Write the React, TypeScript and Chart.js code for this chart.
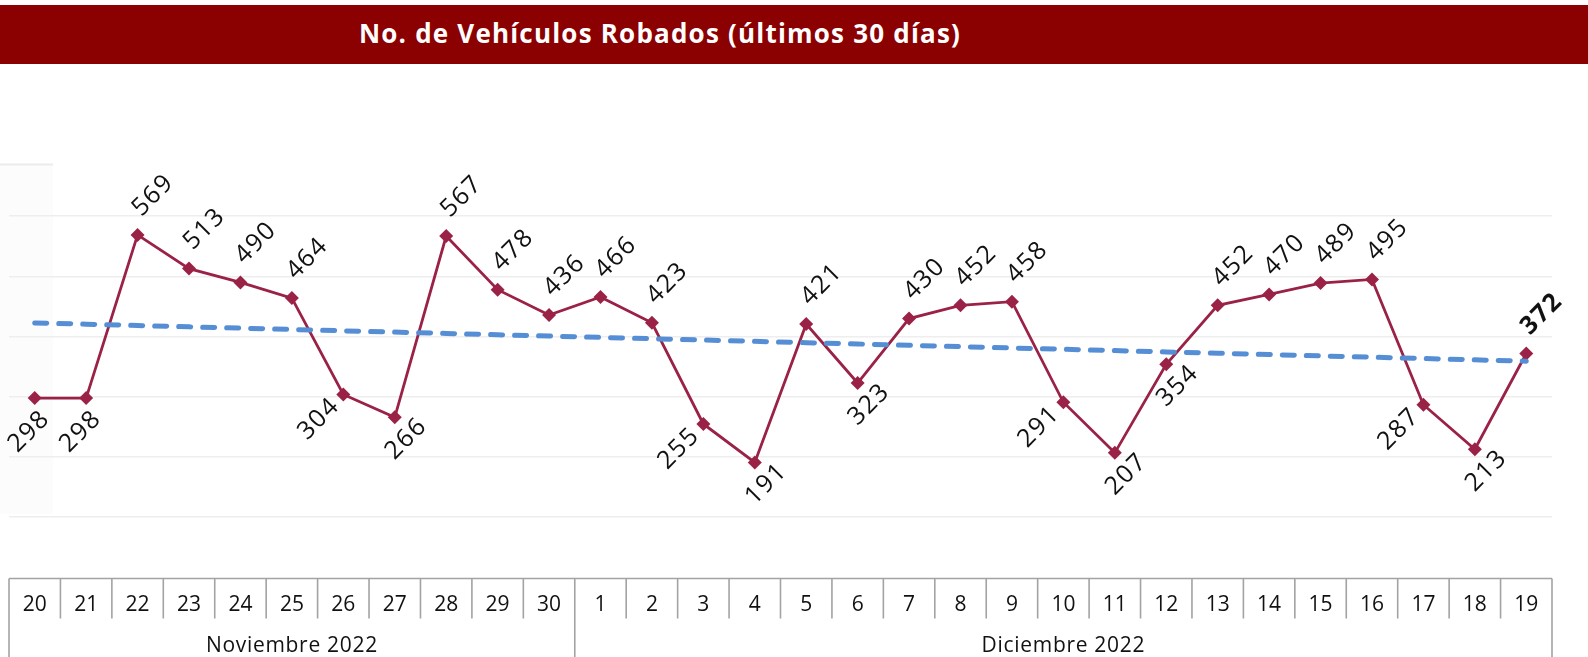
import React, { useEffect, useRef } from "react";
import { Chart, registerables } from "chart.js";

Chart.register(...registerables);

// ---------- data ----------
const title = "No. de Vehículos Robados (últimos 30 días)";
const days = [
  "20", "21", "22", "23", "24", "25", "26", "27", "28", "29", "30",
  "1", "2", "3", "4", "5", "6", "7", "8", "9", "10",
  "11", "12", "13", "14", "15", "16", "17", "18", "19",
];
const months = ["Noviembre 2022", "Diciembre 2022"];
const monthSpans = [11, 19];
const robos = [
  298, 298, 569, 513, 490, 464, 304, 266, 567, 478, 436,
  466, 423, 255, 191, 421, 323, 430, 452, 458, 291,
  207, 354, 452, 470, 489, 495, 287, 213, 372,
];
// label placement: A above-right, B below, L below-left, R below-right
const labelPlacement = [
  "B", "B", "A", "A", "A", "A", "L", "R", "A", "A", "A",
  "A", "A", "L", "R", "A", "R", "A", "A", "A", "L",
  "R", "R", "A", "A", "A", "A", "L", "R", "A",
];
const yTicks = [0, 100, 200, 300, 400, 500, 600, 700];

// linear trendline (least squares) of the series
function trendOf(vals: number[]): number[] {
  const n = vals.length;
  let sx = 0, sy = 0, sxy = 0, sxx = 0;
  vals.forEach((v, i) => { sx += i; sy += v; sxy += i * v; sxx += i * i; });
  const b = (n * sxy - sx * sy) / (n * sxx - sx * sx);
  const a = (sy - b * sx) / n;
  return vals.map((_, i) => a + b * i);
}

const FONT = '"Open Sans", "Liberation Sans", sans-serif';
const OFFS: Record<string, [number, number]> = {
  A: [15, -39],
  B: [-6, 34],
  L: [-25, 25],
  R: [11, 22],
};

const labelsPlugin = {
  id: "rotLabels",
  afterDatasetsDraw(chart: any) {
    const meta = chart.getDatasetMeta(1);
    const ctx = chart.ctx;
    ctx.save();
    meta.data.forEach((pt: any, i: number) => {
      const [dx, dy] = OFFS[labelPlacement[i]];
      const last = i === robos.length - 1;
      ctx.save();
      ctx.translate(pt.x + dx, pt.y + dy);
      ctx.rotate(-Math.PI / 4);
      ctx.font = `${last ? "bold " : ""}25px ${FONT}`;
      (ctx as any).letterSpacing = "1.5px";
      ctx.fillStyle = "#111";
      ctx.textAlign = "center";
      ctx.textBaseline = "middle";
      ctx.fillText(String(robos[i]), 0.75, 0);
      ctx.restore();
    });
    ctx.restore();
  },
};

const tablePlugin = {
  id: "catTable",
  beforeDraw(chart: any) {
    const ctx = chart.ctx;
    ctx.save();
    ctx.fillStyle = "#fcfcfc";
    ctx.fillRect(0, 164, 53, 350);
    ctx.strokeStyle = "#ececec";
    ctx.lineWidth = 2;
    ctx.beginPath();
    ctx.moveTo(0, 164.5);
    ctx.lineTo(53, 164.5);
    ctx.stroke();
    ctx.restore();
  },
  afterDraw(chart: any) {
    const ctx = chart.ctx;
    const xs = chart.scales.x;
    const area = chart.chartArea;
    const band = xs.getPixelForValue(1) - xs.getPixelForValue(0);
    const top = Math.round(area.bottom) + 0.5;
    const rowB = top + 40;
    const bottom = chart.height;
    ctx.save();
    ctx.strokeStyle = "#a3a3a3";
    ctx.lineWidth = 1.6;
    ctx.beginPath();
    ctx.moveTo(area.left, top);
    ctx.lineTo(area.right, top);
    const monthEdges = new Set<number>();
    let acc = 0;
    monthEdges.add(0);
    monthSpans.forEach((s) => { acc += s; monthEdges.add(acc); });
    for (let i = 0; i <= days.length; i++) {
      const x = xs.getPixelForValue(0) - band / 2 + i * band;
      ctx.moveTo(x, top);
      ctx.lineTo(x, monthEdges.has(i) ? bottom : rowB);
    }
    ctx.stroke();
    ctx.fillStyle = "#111";
    ctx.textAlign = "center";
    ctx.textBaseline = "middle";
    ctx.font = `21px ${FONT}`;
    days.forEach((d, i) => {
      ctx.fillText(d, xs.getPixelForValue(i), top + 27);
    });
    let start = 0;
    months.forEach((m, k) => {
      const x0 = xs.getPixelForValue(start) - band / 2;
      const x1 = x0 + monthSpans[k] * band;
      (ctx as any).letterSpacing = "0.7px";
      ctx.fillText(m, (x0 + x1) / 2, top + 68);
      start += monthSpans[k];
    });
    ctx.restore();
  },
};

export default function App() {
  const ref = useRef<HTMLCanvasElement | null>(null);
  useEffect(() => {
    document.body.style.margin = "0";
    const canvas = ref.current;
    if (!canvas) return;
    const chart = new Chart(canvas, {
      type: "line",
      data: {
        labels: days,
        datasets: [
          {
            label: "Tendencia",
            data: trendOf(robos),
            borderColor: "#558ED5",
            borderWidth: 5,
            borderDash: [12, 12],
            borderCapStyle: "round",
            pointRadius: 0,
            tension: 0,
            order: 0,
          },
          {
            label: "Vehículos robados",
            data: robos,
            borderColor: "#9B2247",
            backgroundColor: "#9B2247",
            borderWidth: 2.8,
            pointStyle: "rectRot",
            pointRadius: 7,
            pointBorderWidth: 0,
            tension: 0,
            order: 1,
          },
        ],
      },
      options: {
        animation: false,
        responsive: false,
        maintainAspectRatio: false,
        layout: { padding: { left: 9, right: 36, top: 156, bottom: 79.5 } },
        plugins: {
          legend: { display: false },
          tooltip: { enabled: false },
          title: { display: false },
        },
        scales: {
          x: { type: "category", display: false, offset: true },
          y: {
            min: yTicks[0],
            max: yTicks[yTicks.length - 1],
            afterFit: (s: any) => { s.width = 0; },
            afterBuildTicks: (s: any) => { s.ticks = yTicks.map((v) => ({ value: v })); },
            ticks: { display: false },
            border: { display: false },
            grid: {
              drawTicks: false,
              lineWidth: 1.6,
              color: (c: any) =>
                c.tick && (c.tick.value === yTicks[0] || c.tick.value === yTicks[yTicks.length - 1])
                  ? "rgba(0,0,0,0)"
                  : "#eeeeee",
            },
          },
        },
      },
      plugins: [tablePlugin, labelsPlugin],
    } as any);
    return () => chart.destroy();
  }, []);

  return (
    <div style={{ position: "absolute", left: 0, top: 0, width: 1588, height: 657, background: "#fff", overflow: "hidden" }}>
      <div
        style={{
          position: "absolute", left: 0, top: 5, width: 1588, height: 59,
          background: "#8B0000",
        }}
      >
        <div
          style={{
            position: "absolute", left: 0, top: 0, width: 1320, height: 59,
            lineHeight: "57px", textAlign: "center", color: "#fff",
            fontFamily: FONT, fontWeight: 700, fontSize: 26, letterSpacing: "1.2px",
            whiteSpace: "nowrap",
          }}
        >
          {title}
        </div>
      </div>
      <canvas ref={ref} width={1588} height={657} style={{ position: "absolute", left: 0, top: 0 }} />
    </div>
  );
}
